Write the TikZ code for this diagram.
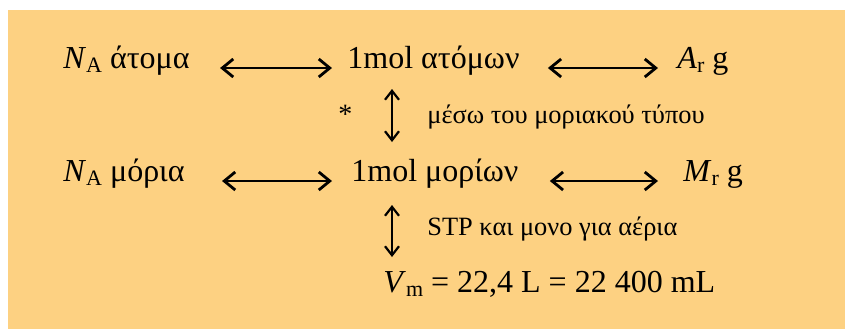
\documentclass[tikz,border=0pt]{standalone}
\usepackage{fontspec}
\setmainfont{Liberation Serif}
\usetikzlibrary{arrows.meta,calc}
\definecolor{peach}{HTML}{FDD182}
\newcommand{\lowidx}[1]{\raisebox{-2pt}{\fontsize{11}{12}\selectfont #1}}
\tikzset{
  qty/.style={anchor=base west, inner sep=0pt, font=\fontsize{16}{19}\selectfont},
  note/.style={anchor=base west, inner sep=0pt, font=\fontsize{13.2}{15}\selectfont},
  hflow/.style={{Straight Barb[length=5.5pt,width=9pt]}-{Straight Barb[length=5.5pt,width=9pt]}, line width=1.4pt},
  vflow/.style={{Straight Barb[length=4.5pt,width=7pt]}-{Straight Barb[length=4.5pt,width=7pt]}, line width=1.1pt},
}

\begin{document}
\begin{tikzpicture}[x=0.5pt,y=-0.5pt]
  \useasboundingbox (0,0) rectangle (845,329);
  \fill[peach] (8,10) rectangle (845,329);

  % first row: atoms
  \node[qty] (na1) at (63,68) {\textit{N}\lowidx{A} άτομα};
  \node[qty] (mol1) at (347,68) {1mol ατόμων};
  \node[qty] (ar) at (677,68) {\textit{A}\lowidx{r} g};
  % second row: molecules
  \node[qty] (na2) at (63,181) {\textit{N}\lowidx{A} μόρια};
  \node[qty] (mol2) at (351,181) {1mol μορίων};
  \node[qty] (mr) at (683,181) {\textit{M}\lowidx{r} g};
  \node[qty] (vm) at (383,292) {\textit{V}\lowidx{m} = 22,4 L = 22 400 mL};

  \node[note, font=\fontsize{14}{16}\selectfont] (star) at (338,123) {*};
  \node[note] (via) at (427,123) {μέσω του μοριακού τύπου};
  \node[note] (stp) at (427,235) {STP και μονο για αέρια};

  \draw[hflow, shorten <=15pt, shorten >=7.5pt] (na1.base east) -- (mol1.base west);
  \draw[hflow, shorten <=14pt, shorten >=9.5pt] (mol1.base east) -- (ar.base west);
  \draw[hflow, shorten <=18.5pt, shorten >=9.5pt] (na2.base east) -- (mol2.base west);
  \draw[hflow, shorten <=15.5pt, shorten >=12.5pt] (mol2.base east) -- (mr.base west);
  \draw[vflow, shorten <=10.5pt, shorten >=19.5pt] ([xshift=22.5pt]mol1.base west) -- ([xshift=22.5pt]mol1.base west |- mol2.base);
  \draw[vflow, shorten <=12pt, shorten >=17.5pt] ([xshift=4.5pt]vm.base west |- mol2.base) -- ([xshift=4.5pt]vm.base west);
\end{tikzpicture}
\end{document}
